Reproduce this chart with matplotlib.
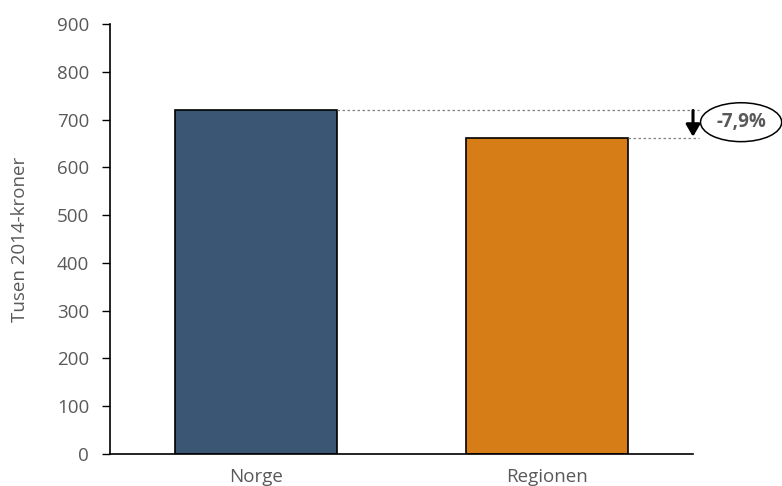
import matplotlib.pyplot as plt

# inntekt per innbygger, tusen 2014-kroner
kategorier = ["Norge", "Regionen"]
verdier = [719, 662]
farger = ["#3A5674", "#D67D17"]
endring = "-7,9%"

plt.rcParams['font.family'] = ['Open Sans', 'DejaVu Sans']
grå = "#595959"

fig = plt.figure(figsize=(7.82, 4.86), dpi=100)
ax = fig.add_axes([0.1407, 0.0658, 0.7455, 0.8848])

x = range(len(kategorier))
ax.bar(x, verdier, width=0.555, color=farger, edgecolor="black", linewidth=1.2, zorder=2)

ax.set_xlim(-0.5, 1.5)
ax.set_ylim(0, 900)
ax.set_yticks(range(0, 901, 100))
ax.set_xticks(list(x))
ax.set_xticklabels(kategorier)
ax.tick_params(axis="x", length=0, pad=10, labelsize=13.5, labelcolor=grå)
ax.tick_params(axis="y", length=6, width=1, direction="out", labelsize=13.5, labelcolor=grå, pad=9)
ax.set_ylabel("Tusen 2014-kroner", fontsize=13.5, color=grå, labelpad=20)

for s in ["top", "right"]:
    ax.spines[s].set_visible(False)
for s in ["left", "bottom"]:
    ax.spines[s].set_linewidth(1.2)

# stiplede hjelpelinjer og pil for differansen
for i, v in enumerate(verdier):
    ax.plot([i + 0.2775, 1.52], [v, v], ls=(0, (2, 2)), color="#808080", lw=0.9, clip_on=False)
ax.annotate("", xy=(1.5, verdier[1] + 2), xytext=(1.5, verdier[0]),
            arrowprops=dict(arrowstyle="-|>,head_length=0.6,head_width=0.35", color="black",
                            lw=2.2, mutation_scale=12, shrinkA=0, shrinkB=0),
            annotation_clip=False)
ax.text(1.665, (verdier[0] + verdier[1]) / 2 + 4, endring, ha="center", va="center",
        fontsize=13.5, fontweight="bold", color=grå, clip_on=False,
        bbox=dict(boxstyle="ellipse,pad=0.2", fc="white", ec="black", lw=1.1))

fig.savefig("out.png", dpi=100)
